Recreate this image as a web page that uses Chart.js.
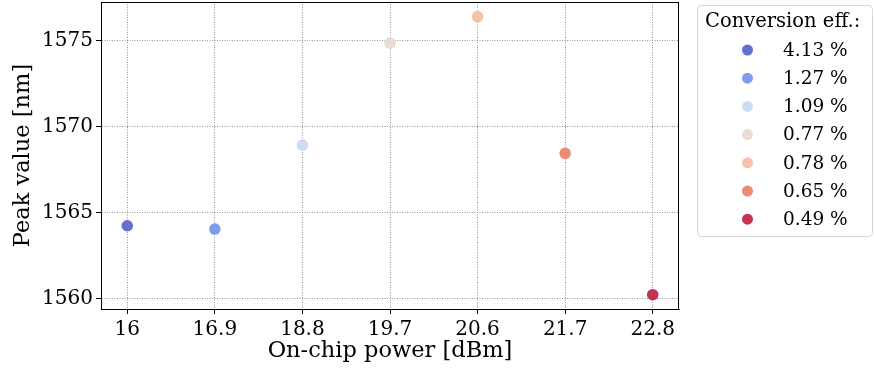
<!DOCTYPE html>
<html>
<head>
<meta charset="utf-8">
<script src="https://cdn.jsdelivr.net/npm/chart.js@4/dist/chart.umd.min.js"></script>
<style>
  html, body { margin: 0; padding: 0; background: #ffffff; }
  #wrap { width: 874px; height: 368px; position: relative; }
</style>
</head>
<body>
<div id="wrap"><canvas id="chart" width="874" height="368"></canvas></div>
<script>
// On-chip pump power settings (categorical x positions)
const powerLabels = ['16', '16.9', '18.8', '19.7', '20.6', '21.7', '22.8'];
// Measured peak wavelength for each power setting [nm]
const peakValues = [1564.24, 1564.05, 1568.93, 1574.86, 1576.40, 1568.45, 1560.23];
// Conversion efficiency shown in the legend
const efficiencies = ['4.13 %', '1.27 %', '1.09 %', '0.77 %', '0.78 %', '0.65 %', '0.49 %'];
// Marker colours (coolwarm ramp, softened)
const pointColors = ['#6570d3', '#7f9cf0', '#cddcf5', '#eadcd4', '#f5c2a9', '#ea8b73', '#c43350'];
// Y axis tick values
const yTicks = [1560, 1565, 1570, 1575];

const SERIF = "'DejaVu Serif', serif";

const datasets = powerLabels.map((lbl, i) => ({
  label: efficiencies[i],
  data: [{ x: i, y: peakValues[i] }],
  backgroundColor: pointColors[i],
  borderColor: pointColors[i],
  borderWidth: 0,
  pointRadius: 5.8,
  pointHoverRadius: 5.8
}));

// Full frame around the plot area plus the boxed legend on the right
const frameAndLegend = {
  id: 'frameAndLegend',
  afterDraw(chart) {
    const ctx = chart.ctx;
    const a = chart.chartArea;
    ctx.save();
    ctx.strokeStyle = '#000';
    ctx.lineWidth = 1;
    ctx.strokeRect(Math.round(a.left) + 0.5, Math.round(a.top) + 0.5,
                   Math.round(a.right - a.left) - 1, Math.round(a.bottom - a.top));
    ctx.restore();

    // legend box
    const bx = 697.5, by = 5.5, bw = 175, bh = 231, r = 4;
    ctx.save();
    ctx.beginPath();
    ctx.moveTo(bx + r, by);
    ctx.lineTo(bx + bw - r, by);
    ctx.quadraticCurveTo(bx + bw, by, bx + bw, by + r);
    ctx.lineTo(bx + bw, by + bh - r);
    ctx.quadraticCurveTo(bx + bw, by + bh, bx + bw - r, by + bh);
    ctx.lineTo(bx + r, by + bh);
    ctx.quadraticCurveTo(bx, by + bh, bx, by + bh - r);
    ctx.lineTo(bx, by + r);
    ctx.quadraticCurveTo(bx, by, bx + r, by);
    ctx.closePath();
    ctx.fillStyle = 'rgba(255,255,255,0.8)';
    ctx.fill();
    ctx.strokeStyle = '#d6d6d6';
    ctx.lineWidth = 1;
    ctx.stroke();

    ctx.fillStyle = '#000';
    ctx.font = '19.5px ' + SERIF;
    ctx.textBaseline = 'middle';
    ctx.textAlign = 'left';
    ctx.fillText('Conversion eff.:', 705, 21.5);

    ctx.font = '18.5px ' + SERIF;
    chart.data.datasets.forEach((ds, i) => {
      const cy = 50 + i * 28.2;
      ctx.beginPath();
      ctx.arc(747.5, cy, 5.5, 0, Math.PI * 2);
      ctx.fillStyle = ds.backgroundColor;
      ctx.fill();
      ctx.fillStyle = '#000';
      ctx.fillText(ds.label, 783, cy + 1);
    });
    ctx.restore();
  }
};

const gridOpts = {
  color: 'rgba(110,110,110,0.9)',
  lineWidth: 0.8,
  tickColor: '#000',
  tickLength: 5,
  tickWidth: 1,
  tickBorderDash: []
};
const borderOpts = { display: true, color: '#000', width: 1, dash: [1, 1.5] };

// Keep the plot area fixed: no extra room reserved for edge tick labels
function fixPadding(scale) {
  scale.paddingTop = 0;
  scale.paddingBottom = 0;
  scale.paddingLeft = 0;
  scale.paddingRight = 0;
}

new Chart(document.getElementById('chart'), {
  type: 'scatter',
  data: { datasets },
  options: {
    responsive: false,
    devicePixelRatio: 1,
    animation: false,
    layout: { autoPadding: false, padding: { left: 0, right: 195, top: 2, bottom: 0 } },
    plugins: { legend: { display: false }, tooltip: { enabled: false } },
    scales: {
      x: {
        type: 'linear',
        min: -0.3,
        max: 6.3,
        afterBuildTicks(scale) { scale.ticks = powerLabels.map((_, i) => ({ value: i })); },
        afterFit(scale) { scale.height = 59; fixPadding(scale); },
        ticks: {
          callback: (v) => powerLabels[v],
          color: '#000',
          font: { family: SERIF, size: 20 },
          padding: 4,
          maxRotation: 0,
          autoSkip: false
        },
        grid: gridOpts,
        border: borderOpts,
        title: {
          display: true,
          text: 'On-chip power [dBm]',
          color: '#000',
          font: { family: SERIF, size: 22.5 },
          padding: { top: 0, bottom: 3 }
        }
      },
      y: {
        min: 1559.4,
        max: 1577.25,
        afterBuildTicks(scale) { scale.ticks = yTicks.map(v => ({ value: v })); },
        afterFit(scale) { scale.width = 101; fixPadding(scale); },
        ticks: {
          callback: (v) => String(v),
          color: '#000',
          font: { family: SERIF, size: 20 },
          padding: 3
        },
        grid: gridOpts,
        border: borderOpts,
        title: {
          display: true,
          text: 'Peak value [nm]',
          color: '#000',
          font: { family: SERIF, size: 22.5 },
          padding: { top: 10, bottom: 0 }
        }
      }
    }
  },
  plugins: [frameAndLegend]
});
</script>
</body>
</html>
